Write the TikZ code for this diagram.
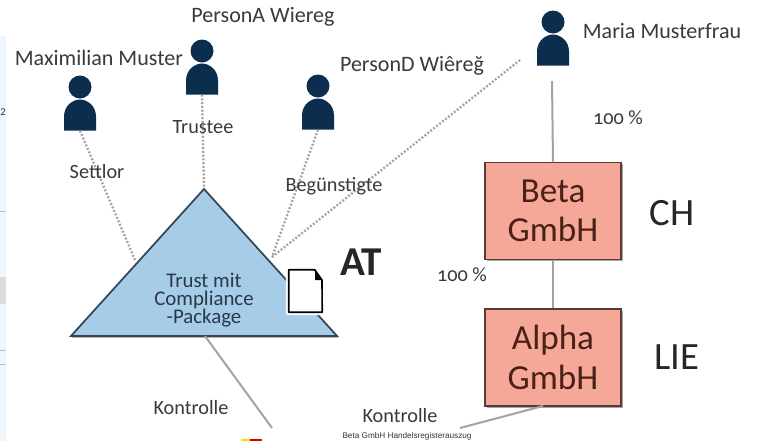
\documentclass[tikz,border=0pt]{standalone}
\usepackage{fontspec}
\setmainfont{Carlito}
\newfontfamily\oldnum[Numbers=OldStyle]{Carlito}
\newfontfamily\extractfont{Liberation Sans}
\usetikzlibrary{shadows,calc}
\definecolor{persondark}{HTML}{0B2E4F}
\definecolor{trustblue}{HTML}{A6CCE8}
\definecolor{trustline}{HTML}{33475A}
\definecolor{gmbhred}{HTML}{F5A898}
\definecolor{gmbhline}{HTML}{5A3A38}
\definecolor{gmbhtext}{HTML}{4A2018}
\definecolor{linkgray}{HTML}{A3A3A3}
\definecolor{textgray}{HTML}{3A3A3A}
\definecolor{stripblue}{HTML}{EEF5FC}

\tikzset{
	personbox/.style={minimum width=32*0.03cm, minimum height=55*0.03cm, inner sep=0pt, path picture={
		\fill[persondark] ($(path picture bounding box.center)+(0,-16)$) circle (11.5);
		\fill[persondark] ($(path picture bounding box.center)+(-16,27.5)$) -- ++(0,-14)
			.. controls +(0,-11) and +(-7,0) .. ++(16,-17)
			.. controls +(7,0) and +(0,-11) .. ++(16,17) -- ++(0,14) -- cycle;
	}},
	namelabel/.style={text=textgray, font=\fontsize{18.8}{22}\selectfont},
	rolelabel/.style={text=textgray, font=\fontsize{17.3}{20}\selectfont},
	sharelabel/.style={text=textgray, font=\oldnum\fontsize{17.3}{20}\selectfont},
	landlabel/.style={text=black!85, font=\fontsize{33}{36}\selectfont},
	gmbhbox/.style={draw=gmbhline, line width=1.3pt, fill=gmbhred, minimum width=136*0.03cm, minimum height=97*0.03cm,
		align=center, text=gmbhtext, font=\fontsize{30}{33.5}\selectfont,
		drop shadow={shadow xshift=1.5pt, shadow yshift=-1.5pt, opacity=0.35, fill=black}},
	dottedlink/.style={draw=linkgray, line width=2pt, dash pattern=on 1.6pt off 1.6pt},
	solidlink/.style={draw=linkgray, line width=1.7pt},
}

\begin{document}
\begin{tikzpicture}[x=0.03cm, y=-0.03cm]

	\useasboundingbox (0,0) rectangle (757,441);
	\fill[white] (0,0) rectangle (757,441);

	% leftover of the window on the left
	\fill[stripblue] (0,36) rectangle (6,441);
	\fill[black!14] (0,277) rectangle (6,304);
	\draw[black!25] (0,211) -- (6,211);
	\draw[black!25] (0,350) -- (6,350);
	\draw[black!25] (0,364) -- (6,364);
	\node[text=textgray, font=\fontsize{9}{11}\selectfont, inner sep=0pt] (cutdigit) at (3,112) {2};

	% persons
	\node[personbox] (maximilian) at (80,103) {};
	\node[personbox] (persona) at (202,67) {};
	\node[personbox] (persond) at (318,102) {};
	\node[personbox] (maria) at (553,38) {};

	\node[namelabel] (maximilianlabel) at (99,58) {Maximilian Muster};
	\node[namelabel] (personalabel) at (263,17) {PersonA Wiereg};
	\node[namelabel] (persondlabel) at (412,66) {PersonD Wiêreğ};
	\node[namelabel] (marialabel) at (662,31) {Maria Musterfrau};

	% trust
	\coordinate (apex) at (204,189);
	\coordinate (leftcorner) at (71,336);
	\coordinate (rightcorner) at (337,336);
	\coordinate (settlorend) at (135,260);
	\coordinate (benefend) at (272,257);
	\coordinate (bottommid) at (205,336);
	\coordinate (mariadot) at (520,60);
	\coordinate (mariagap) at (552,81);
	\coordinate (leftfree) at (272,428);
	\coordinate (rightfree) at (460,428);
	\coordinate (alphafoot) at (543,406);

	\draw[dottedlink] (maximilian.south) -- (settlorend);
	\draw[dottedlink] (persona.south) -- (apex);
	\draw[dottedlink] (persond.south) -- (benefend);
	\draw[dottedlink] (mariadot) -- (benefend);

	\draw[draw=trustline, line width=1.5pt, fill=trustblue, line join=miter,
		drop shadow={shadow xshift=1pt, shadow yshift=-1.5pt, opacity=0.3, fill=black}]
		(apex) -- (rightcorner) -- (leftcorner) -- cycle;
	\node[text=trustline!80!black, align=center, inner sep=0pt, font=\fontsize{17.8}{15.3}\selectfont] (trustlabel) at (204,300) {Trust mit\\Compliance\\-Package};

	% document
	\node[minimum width=33*0.03cm, minimum height=42*0.03cm, inner sep=0pt] (docicon) at (305.5,291) {};
	\draw[white, fill=white, line width=5pt, line join=round] (docicon.north west) -- ++(26,0) -- (322,280) -- (docicon.south east) -- (docicon.south west) -- cycle;
	\draw[black, fill=white, line width=1.4pt, line join=round] (docicon.north west) -- ++(26,0) -- (322,280) -- (docicon.south east) -- (docicon.south west) -- cycle;
	\fill[black] (315,270) -- (322,280) -- (315,280) -- cycle;

	% companies
	\node[gmbhbox] (beta) at (553,211) {Beta\\GmbH};
	\node[gmbhbox] (alpha) at (553,357.5) {Alpha\\GmbH};

	\draw[solidlink] (mariagap) -- (beta.north);
	\draw[solidlink] (beta.south) -- (alpha.north);
	\draw[solidlink] (bottommid) -- (leftfree);
	\draw[solidlink] (alphafoot) -- (rightfree);

	% labels
	\node[rolelabel] (settlorlabel) at (97,172) {Settlor};
	\node[rolelabel] (trusteelabel) at (203,127) {Trustee};
	\node[rolelabel] (beglabel) at (334,186) {Begünstigte};
	\node[rolelabel] (kontrolleleft) at (191,408) {Kontrolle};
	\node[rolelabel] (kontrolleright) at (400,416) {Kontrolle};
	\node[sharelabel] (sharetop) at (618,118) {100 \%};
	\node[sharelabel] (sharemid) at (462,275) {100 \%};

	\node[landlabel, font=\fontsize{35}{38}\selectfont\bfseries] (atlabel) at (361,262) {AT};
	\node[landlabel] (chlabel) at (672,213) {CH};
	\node[landlabel] (lielabel) at (677,357) {LIE};

	% bottom edge
	\node[inner sep=0pt, font=\extractfont\fontsize{7}{8}\selectfont, text=black!80] (extractlabel) at (407,436) {Beta GmbH Handelsregisterauszug};
	\fill[red!85!black] (250,439) rectangle (262,441);
	\fill[yellow!80!orange] (241,439) rectangle (250,441);

\end{tikzpicture}
\end{document}
